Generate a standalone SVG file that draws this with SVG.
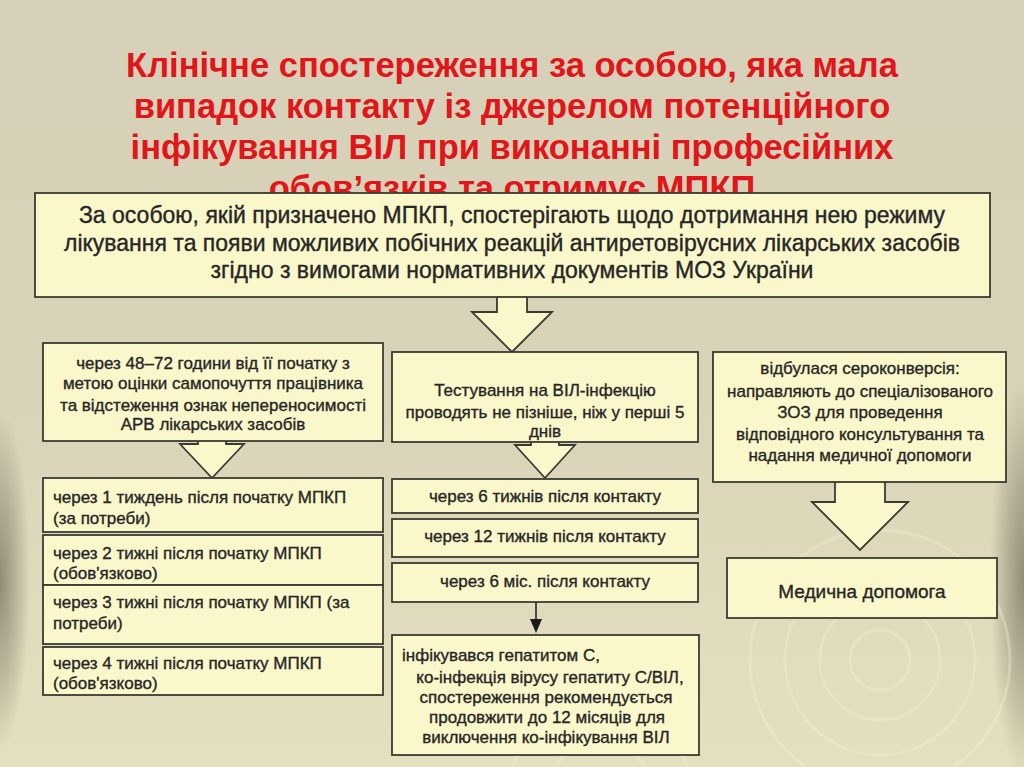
<svg xmlns="http://www.w3.org/2000/svg" width="1024" height="767" viewBox="0 0 1024 767">
<defs>
<linearGradient id="bg" x1="0" y1="0" x2="0" y2="1">
<stop offset="0" stop-color="#D7D0B9"/>
<stop offset="0.5" stop-color="#D8D3B7"/>
<stop offset="1" stop-color="#E4E0BF"/>
</linearGradient>
<radialGradient id="shade">
<stop offset="0" stop-color="#5A574A" stop-opacity="0.6"/>
<stop offset="0.6" stop-color="#5A574A" stop-opacity="0.25"/>
<stop offset="1" stop-color="#5A574A" stop-opacity="0"/>
</radialGradient>
<style>
.box{fill:#FAF7CB;stroke:#3A3A32;stroke-width:1.8}
.arr{fill:#FAF7CB;stroke:#3A3A32;stroke-width:1.8;stroke-linejoin:miter}
.t{font-family:"Liberation Sans",Arial,sans-serif;fill:#262626;stroke:#262626;stroke-width:0.35}
.c{text-anchor:middle}
.s17{font-size:17px}
.s23{font-size:23px}
.title{font-family:"Liberation Sans",Arial,sans-serif;font-weight:bold;font-size:34.5px;fill:#E0161B;text-anchor:middle}
.ring{fill:none;stroke:#F4F1D8;stroke-opacity:0.35;stroke-width:3}
</style>
</defs>
<g id="background">
<rect x="0" y="0" width="1024" height="767" fill="url(#bg)"/>
<ellipse cx="0" cy="580" rx="30" ry="170" fill="url(#shade)"/>
<ellipse cx="1024" cy="580" rx="34" ry="200" fill="url(#shade)"/>
<circle class="ring" cx="880" cy="660" r="30"/>
<circle class="ring" cx="880" cy="660" r="60"/>
<circle class="ring" cx="880" cy="660" r="95"/>
<circle class="ring" cx="880" cy="660" r="130"/>
<circle class="ring" cx="600" cy="790" r="50"/>
<circle class="ring" cx="600" cy="790" r="90"/>
</g>
<g id="title">
<text class="title" x="512" y="77">Клінічне спостереження за особою, яка мала</text>
<text class="title" x="512" y="118">випадок контакту із джерелом потенційного</text>
<text class="title" x="512" y="159">інфікування ВІЛ при виконанні професійних</text>
<text class="title" x="512" y="200">обов’язків та отримує МПКП</text>
</g>
<g id="connectors">
<path class="arr" d="M497,296 L497,312 L472,312 L512,352 L552,312 L527,312 L527,296"/>
<path class="arr" d="M198,440 L198,444 L180,444 L212,478 L244,444 L226,444 L226,440"/>
<path class="arr" d="M531,441 L531,445 L515,445 L545,478 L575,445 L559,445 L559,441"/>
<path class="arr" d="M835,481 L835,502 L812,502 L860,550 L908,502 L885,502 L885,481"/>
<line x1="536" y1="602" x2="536" y2="620" stroke="#1A1A1A" stroke-width="1.5"/>
<polygon points="530,619 542,619 536,633" fill="#1A1A1A"/>
</g>
<g id="node-top">
<rect class="box" x="35" y="193" width="955" height="104"/>
<text class="t c s23" x="512" y="223">За особою, якій призначено МПКП, спостерігають щодо дотримання нею режиму</text>
<text class="t c s23" x="512" y="251">лікування та появи можливих побічних реакцій антиретовірусних лікарських засобів</text>
<text class="t c s23" x="512" y="278">згідно з вимогами нормативних документів МОЗ України</text>
</g>
<g id="node-48-72">
<rect class="box" x="43" y="343" width="340" height="98"/>
<text class="t c s17" x="213" y="369">через 48–72 години від її початку з</text>
<text class="t c s17" x="213" y="389">метою оцінки самопочуття працівника</text>
<text class="t c s17" x="213" y="411">та відстеження ознак непереносимості</text>
<text class="t c s17" x="213" y="430">АРВ лікарських засобів</text>
</g>
<g id="node-week1">
<rect class="box" x="43" y="478" width="340" height="54"/>
<text class="t s17" x="53" y="503">через 1 тиждень після початку МПКП</text>
<text class="t s17" x="53" y="524">(за потреби)</text>
</g>
<g id="node-week2">
<rect class="box" x="43" y="535" width="340" height="50"/>
<text class="t s17" x="53" y="559">через 2 тижні після початку МПКП</text>
<text class="t s17" x="53" y="579">(обов'язково)</text>
</g>
<g id="node-week3">
<rect class="box" x="43" y="585" width="340" height="59"/>
<text class="t s17" x="53" y="608">через 3 тижні після початку МПКП (за</text>
<text class="t s17" x="53" y="629">потреби)</text>
</g>
<g id="node-week4">
<rect class="box" x="43" y="647" width="340" height="48"/>
<text class="t s17" x="53" y="669">через 4 тижні після початку МПКП</text>
<text class="t s17" x="53" y="689">(обов'язково)</text>
</g>
<g id="node-test">
<rect class="box" x="392" y="352" width="306" height="90"/>
<text class="t c s17" x="545" y="396">Тестування на ВІЛ-інфекцію</text>
<text class="t c s17" x="545" y="418">проводять не пізніше, ніж у перші 5</text>
<text class="t c s17" x="545" y="437">днів</text>
</g>
<g id="node-6w">
<rect class="box" x="392" y="479" width="306" height="34"/>
<text class="t c s17" x="545" y="502">через 6 тижнів після контакту</text>
</g>
<g id="node-12w">
<rect class="box" x="392" y="519" width="306" height="38"/>
<text class="t c s17" x="545" y="542">через 12 тижнів після контакту</text>
</g>
<g id="node-6m">
<rect class="box" x="392" y="563" width="306" height="39"/>
<text class="t c s17" x="545" y="587">через 6 міс. після контакту</text>
</g>
<g id="node-hepc">
<rect class="box" x="392" y="635" width="307" height="120"/>
<text class="t s17" x="402" y="661">інфікувався гепатитом С,</text>
<text class="t c s17" x="550" y="683">ко-інфекція вірусу гепатиту С/ВІЛ,</text>
<text class="t c s17" x="546" y="703">спостереження рекомендується</text>
<text class="t c s17" x="547" y="723">продовжити до 12 місяців для</text>
<text class="t c s17" x="546" y="743">виключення ко-інфікування ВІЛ</text>
</g>
<g id="node-seroconv">
<rect class="box" x="713" y="352" width="293" height="130"/>
<text class="t c s17" x="860" y="374">відбулася сероконверсія:</text>
<text class="t c s17" x="860" y="397">направляють до спеціалізованого</text>
<text class="t c s17" x="860" y="418">ЗОЗ для проведення</text>
<text class="t c s17" x="860" y="440">відповідного консультування та</text>
<text class="t c s17" x="860" y="461">надання медичної допомоги</text>
</g>
<g id="node-medical">
<rect class="box" x="727" y="558" width="270" height="60"/>
<text class="t c" x="862" y="598" font-size="19">Медична допомога</text>
</g>
</svg>
